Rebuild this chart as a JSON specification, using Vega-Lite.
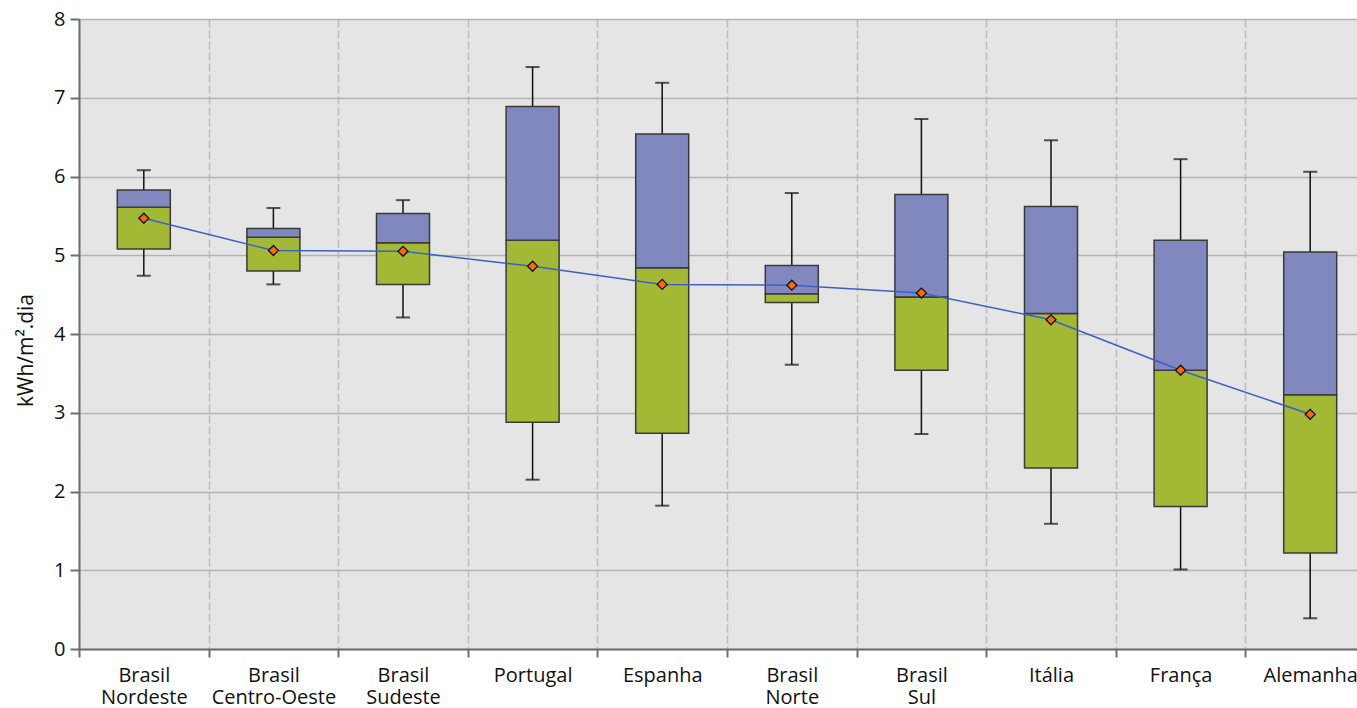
{
  "$schema": "https://vega.github.io/schema/vega-lite/v6.json",
  "width": 1278,
  "height": 630,
  "autosize": {"type": "none"},
  "padding": {"left": 79, "top": 19, "right": 0, "bottom": 59},
  "background": "white",
  "config": {"view": {"fill": "#e5e5e5", "stroke": null}, "font": "Open Sans"},
  "data": {"values": [
    {"cat": "Brasil|Nordeste", "lo": 4.74, "q1": 5.08, "med": 5.61, "q3": 5.83, "hi": 6.08, "mean": 5.47},
    {"cat": "Brasil|Centro-Oeste", "lo": 4.63, "q1": 4.80, "med": 5.23, "q3": 5.34, "hi": 5.60, "mean": 5.06},
    {"cat": "Brasil|Sudeste", "lo": 4.21, "q1": 4.63, "med": 5.16, "q3": 5.53, "hi": 5.70, "mean": 5.05},
    {"cat": "Portugal", "lo": 2.15, "q1": 2.88, "med": 5.19, "q3": 6.89, "hi": 7.39, "mean": 4.86},
    {"cat": "Espanha", "lo": 1.82, "q1": 2.74, "med": 4.84, "q3": 6.54, "hi": 7.19, "mean": 4.63},
    {"cat": "Brasil|Norte", "lo": 3.61, "q1": 4.40, "med": 4.51, "q3": 4.87, "hi": 5.79, "mean": 4.62},
    {"cat": "Brasil|Sul", "lo": 2.73, "q1": 3.54, "med": 4.47, "q3": 5.77, "hi": 6.73, "mean": 4.52},
    {"cat": "Itália", "lo": 1.59, "q1": 2.30, "med": 4.26, "q3": 5.62, "hi": 6.46, "mean": 4.18},
    {"cat": "França", "lo": 1.01, "q1": 1.81, "med": 3.54, "q3": 5.19, "hi": 6.22, "mean": 3.54},
    {"cat": "Alemanha", "lo": 0.39, "q1": 1.22, "med": 3.23, "q3": 5.04, "hi": 6.06, "mean": 2.98}
  ]},
  "encoding": {
    "x": {
      "field": "cat", "type": "nominal", "sort": null, "title": null,
      "scale": {"range": [0, 1296], "paddingInner": 0, "paddingOuter": 0},
      "axis": {
        "tickBand": "extent", "labelAngle": 0,
        "labelExpr": "split(datum.label, '|')",
        "labelFontSize": 20, "labelColor": "#111111", "labelLineHeight": 22,
        "labelPadding": 8, "labelBaseline": "top",
        "tickSize": 8, "tickColor": "#6e6e6e", "tickWidth": 2,
        "domainColor": "#6e6e6e", "domainWidth": 2,
        "grid": true, "gridColor": "#bdbdbd", "gridWidth": 1.5, "gridDash": [8, 3]
      }
    }
  },
  "layer": [
    {
      "mark": {"type": "rule", "color": "#111111", "strokeWidth": 1.5},
      "encoding": {
        "y": {"field": "lo", "type": "quantitative", "scale": {"domain": [0, 8], "nice": false},
          "title": "kWh/m².dia",
          "axis": {
            "values": [0, 1, 2, 3, 4, 5, 6, 7, 8], "format": "d",
            "labelFontSize": 20, "labelColor": "#111111", "labelPadding": 5,
            "tickSize": 9, "tickColor": "#6e6e6e", "tickWidth": 2,
            "domainColor": "#6e6e6e", "domainWidth": 2,
            "grid": true, "gridColor": "#b4b4b4", "gridWidth": 1.5,
            "titleFontSize": 21, "titleFontWeight": "normal", "titleColor": "#111111",
            "titleX": -43, "titleY": 331
          }
        },
        "y2": {"field": "hi"}
      }
    },
    {
      "mark": {"type": "tick", "color": "#111111", "size": 14, "thickness": 2},
      "encoding": {"y": {"field": "lo", "type": "quantitative"}}
    },
    {
      "mark": {"type": "tick", "color": "#111111", "size": 14, "thickness": 2},
      "encoding": {"y": {"field": "hi", "type": "quantitative"}}
    },
    {
      "mark": {"type": "bar", "width": 53, "color": "#a3b935", "stroke": "#3a3a3a", "strokeWidth": 1.5},
      "encoding": {"y": {"field": "q1", "type": "quantitative"}, "y2": {"field": "med"}}
    },
    {
      "mark": {"type": "bar", "width": 53, "color": "#8088bf", "stroke": "#3a3a3a", "strokeWidth": 1.5},
      "encoding": {"y": {"field": "med", "type": "quantitative"}, "y2": {"field": "q3"}}
    },
    {
      "mark": {"type": "line", "color": "#3b5fc9", "strokeWidth": 1.5},
      "encoding": {"y": {"field": "mean", "type": "quantitative"}}
    },
    {
      "mark": {"type": "point", "shape": "diamond", "filled": true, "fill": "#ff6a00", "stroke": "#111111", "strokeWidth": 1.3, "size": 100, "opacity": 1},
      "encoding": {"y": {"field": "mean", "type": "quantitative"}}
    }
  ]
}
